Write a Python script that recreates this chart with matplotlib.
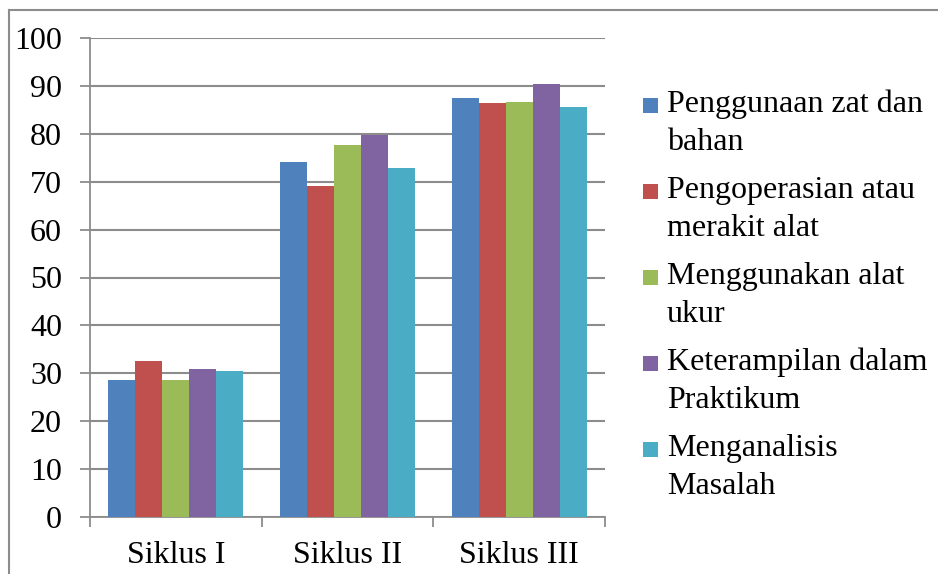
import matplotlib
matplotlib.use("Agg")
import matplotlib.pyplot as plt
import numpy as np
from matplotlib.patches import Rectangle
from matplotlib.lines import Line2D

plt.rcParams['font.family'] = ['Liberation Serif', 'DejaVu Serif']

categories = ["Siklus I", "Siklus II", "Siklus III"]
series_names = ["Penggunaan zat dan\nbahan", "Pengoperasian atau\nmerakit alat",
                "Menggunakan alat\nukur", "Keterampilan dalam\nPraktikum",
                "Menganalisis\nMasalah"]
penggunaan = [28.5, 74.2, 87.4]
pengoperasian = [32.6, 69.2, 86.5]
alat_ukur = [28.6, 77.7, 86.7]
keterampilan = [30.8, 79.8, 90.4]
menganalisis = [30.5, 72.8, 85.6]
series = [penggunaan, pengoperasian, alat_ukur, keterampilan, menganalisis]
colors = ["#4F81BD", "#C0504D", "#9BBB59", "#8064A2", "#4BACC6"]
yticks = [0, 10, 20, 30, 40, 50, 60, 70, 80, 90, 100]

W, H = 938, 574
FS = 23
GRAY = "#8c8c8c"

fig = plt.figure(figsize=(W / 100, H / 100), dpi=100)
ax = fig.add_axes([90 / W, 1 - 517 / H, (605 - 90) / W, (517 - 38) / H])

x = np.arange(len(categories))
w = 0.157
for i, (vals, c) in enumerate(zip(series, colors)):
    ax.bar(x + (i - 2) * w, vals, width=w, color=c, zorder=3)

ax.set_xlim(-0.5, 2.5)
ax.set_ylim(0, 100)
ax.set_yticks(yticks)
ax.set_yticklabels([str(t) for t in yticks], fontsize=FS)
ax.yaxis.grid(True, color=GRAY, linewidth=1.5, zorder=0)
ax.set_xticks(x)
ax.set_xticklabels(categories, fontsize=FS)
ax.tick_params(axis='x', length=0, pad=17.5)
ax.set_xticks([-0.5, 0.5, 1.5, 2.5], minor=True)
ax.tick_params(axis='x', which='minor', length=7.2, width=1.3, color=GRAY)
ax.tick_params(axis='y', length=7.2, width=1.3, color=GRAY, pad=13)
for s in ['top', 'right']:
    ax.spines[s].set_visible(False)
for s in ['left', 'bottom']:
    ax.spines[s].set_color(GRAY)
    ax.spines[s].set_linewidth(1.3)

# legend (manual, positioned in pixel coordinates)
for i, (name, c) in enumerate(zip(series_names, colors)):
    base = 115 + 86 * i
    fig.patches.append(Rectangle((643 / W, 1 - (base - 2) / H), 15 / W, 15 / H,
                                 transform=fig.transFigure, facecolor=c,
                                 edgecolor='none'))
    fig.text(667 / W, 1 - (base + 35) / H, name, fontsize=FS, va='baseline',
             ha='left', linespacing=1.4, transform=fig.transFigure)

# outer frame (top and left edges visible)
fig.add_artist(Line2D([9 / W, 1], [1 - 10 / H, 1 - 10 / H], color=GRAY,
                      linewidth=1.5, transform=fig.transFigure))
fig.add_artist(Line2D([9 / W, 9 / W], [0, 1 - 10 / H], color=GRAY,
                      linewidth=1.5, transform=fig.transFigure))
fig.savefig("out.png", dpi=100)
